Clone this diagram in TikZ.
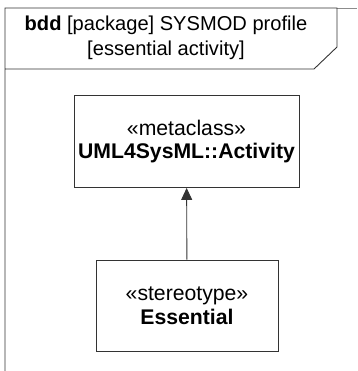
\documentclass[tikz,border=0pt]{standalone}
\usepackage{fontspec}
\setmainfont{Liberation Sans}
\usetikzlibrary{arrows.meta}

\begin{document}
\begin{tikzpicture}[x=1pt, y=-1pt, >={Triangle[length=12pt,width=11pt]},
    block/.style={draw=black!80, line width=0.9pt, align=center, inner sep=0pt,
      font=\fontsize{21.2}{23.5}\selectfont}]
    \useasboundingbox (0,0) rectangle (357,371);

    % Frame
    \draw[black!45, line width=0.9pt] (337,8) -- (357,8);
    \draw[black!80, line width=0.9pt] (5,371) -- (5,8) -- (337,8) -- (337,47) -- (314,69) -- (5,69);
    \node[align=center, font=\fontsize{20.1}{25}\selectfont] (title) at (166,38)
      {\textbf{bdd} [package] SYSMOD profile\\{}{[essential activity]}};

    % Blocks
    \node[block, minimum width=225pt, minimum height=92pt] (activity) at (186.5,141.5)
      {«metaclass»\\\textbf{UML4SysML::Activity}};
    \node[block, minimum width=182pt, minimum height=91pt] (essential) at (187,305.5)
      {«stereotype»\\\textbf{Essential}};

    % Extension
    \draw[->, black!80, line width=0.9pt] (essential) -- (activity);
\end{tikzpicture}
\end{document}
